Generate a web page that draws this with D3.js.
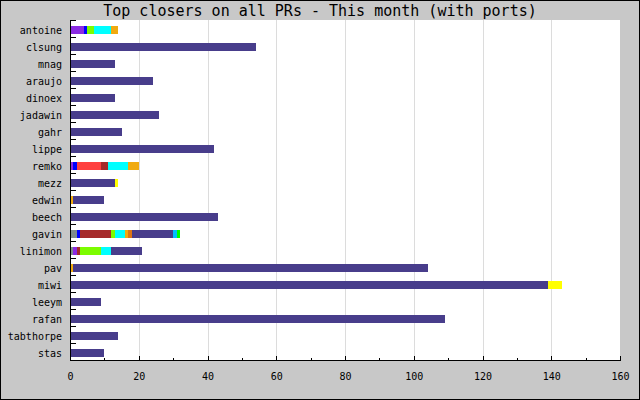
<!DOCTYPE html>
<html>
<head>
<meta charset="utf-8">
<script src="https://cdn.jsdelivr.net/npm/d3@7"></script>
<style>
  body { margin: 0; background: #fff; }
  text { font-family: "DejaVu Sans Mono", monospace; }
</style>
</head>
<body>
<svg width="640" height="400"></svg>
<script>
const svg = d3.select("svg");
const width = +svg.attr("width");
const height = +svg.attr("height");

const closers = ["antoine", "clsung", "mnag", "araujo", "dinoex", "jadawin", "gahr", "lippe",
  "remko", "mezz", "edwin", "beech", "gavin", "linimon", "pav", "miwi", "leeym", "rafan",
  "tabthorpe", "stas"];

// one array per stacked segment, in stacking order (values per closer)
const gray       = [0, 0, 0, 0, 0, 0, 0, 0, 0, 0, 0, 0, 2, 1, 0, 0, 0, 0, 0, 0];
const violet     = [4, 0, 0, 0, 0, 0, 0, 0, 1, 0, 0, 0, 0, 1, 0, 0, 0, 0, 0, 0];
const blue       = [1, 0, 0, 0, 0, 0, 0, 0, 1, 0, 0, 0, 1, 0, 0, 0, 0, 0, 0, 0];
const red        = [0, 0, 0, 0, 0, 0, 0, 0, 7, 0, 0, 0, 0, 0, 0, 0, 0, 0, 0, 0];
const brown      = [0, 0, 0, 0, 0, 0, 0, 0, 2, 0, 0, 0, 9, 1, 0, 0, 0, 0, 0, 0];
const lawn       = [2, 0, 0, 0, 0, 0, 0, 0, 0, 0, 0, 0, 1, 6, 0, 0, 0, 0, 0, 0];
const cyan       = [5, 0, 0, 0, 0, 0, 0, 0, 6, 0, 0, 0, 3, 3, 0, 0, 0, 0, 0, 0];
const orange     = [2, 0, 0, 0, 0, 0, 0, 0, 3, 0, 1, 0, 1, 0, 1, 0, 0, 0, 0, 0];
const darkorange = [0, 0, 0, 0, 0, 0, 0, 0, 0, 0, 0, 0, 1, 0, 0, 0, 0, 0, 0, 0];
const ports      = [0, 54, 13, 24, 13, 26, 15, 42, 0, 13, 9, 43, 12, 9, 103, 139, 9, 109, 14, 10];
const skyblue    = [0, 0, 0, 0, 0, 0, 0, 0, 0, 0, 0, 0, 1, 0, 0, 0, 0, 0, 0, 0];
const lime       = [0, 0, 0, 0, 0, 0, 0, 0, 0, 0, 0, 0, 1, 0, 0, 0, 0, 0, 0, 0];
const yellow     = [0, 0, 0, 0, 0, 0, 0, 0, 0, 1, 0, 0, 0, 0, 0, 4, 0, 0, 0, 0];

const xTicks = [0, 20, 40, 60, 80, 100, 120, 140, 160];

const series = [
  { key: "gray", values: gray, color: "#7f8b8b" },
  { key: "violet", values: violet, color: "#8a2be2" },
  { key: "blue", values: blue, color: "#0000ff" },
  { key: "red", values: red, color: "#ff4040" },
  { key: "brown", values: brown, color: "#a52a2a" },
  { key: "lawn", values: lawn, color: "#7cfc00" },
  { key: "cyan", values: cyan, color: "#00ffff" },
  { key: "orange", values: orange, color: "#f0aa10" },
  { key: "darkorange", values: darkorange, color: "#dd7514" },
  { key: "ports", values: ports, color: "#483d8b" },
  { key: "skyblue", values: skyblue, color: "#00bfff" },
  { key: "lime", values: lime, color: "#00ff00" },
  { key: "yellow", values: yellow, color: "#ffff00" }
];

const table = closers.map((name, i) => {
  const row = { name };
  series.forEach(s => row[s.key] = s.values[i]);
  return row;
});

const plotLeft = 70, plotRight = 620, plotTop = 20, plotBottom = 360;

// background and frame
svg.append("rect")
  .attr("x", 0.5).attr("y", 0.5)
  .attr("width", width - 1).attr("height", height - 1)
  .attr("fill", "#c8c8c8").attr("stroke", "#000");

svg.append("rect")
  .attr("x", plotLeft).attr("y", plotTop)
  .attr("width", plotRight - plotLeft).attr("height", plotBottom - plotTop)
  .attr("fill", "#fff");

svg.append("text")
  .attr("x", width / 2).attr("y", 16)
  .attr("text-anchor", "middle")
  .style("font-size", "15px")
  .text("Top closers on all PRs - This month (with ports)");

const x = d3.scaleLinear().domain([0, 160]).range([plotLeft, plotRight]);
const y = d3.scaleBand().domain(closers).range([plotTop, plotBottom]);

// vertical grid
svg.append("g")
  .selectAll("line")
  .data(xTicks.slice(1, -1))
  .join("line")
  .attr("x1", d => Math.round(x(d)) + 0.5).attr("x2", d => Math.round(x(d)) + 0.5)
  .attr("y1", plotTop).attr("y2", plotBottom)
  .attr("stroke", "#dcdcdc");

const stacked = d3.stack().keys(series.map(s => s.key))(table);
const colorOf = d3.scaleOrdinal().domain(series.map(s => s.key)).range(series.map(s => s.color));

svg.append("g")
  .attr("shape-rendering", "crispEdges")
  .selectAll("g")
  .data(stacked)
  .join("g")
  .attr("fill", d => colorOf(d.key))
  .selectAll("rect")
  .data(d => d.filter(p => p[1] > p[0]))
  .join("rect")
  .attr("x", d => Math.round(x(d[0])))
  .attr("width", d => Math.round(x(d[1])) - Math.round(x(d[0])))
  .attr("y", d => y(d.data.name) + 6)
  .attr("height", 8);

// left axis: line, ticks at band edges, labels
const yAxis = svg.append("g").attr("shape-rendering", "crispEdges");
yAxis.append("line")
  .attr("x1", plotLeft + 0.5).attr("x2", plotLeft + 0.5)
  .attr("y1", plotTop).attr("y2", plotBottom)
  .attr("stroke", "#000");
yAxis.selectAll("line.tick")
  .data(closers.map(c => y(c)))
  .join("line")
  .attr("class", "tick")
  .attr("x1", plotLeft).attr("x2", plotLeft + 6)
  .attr("y1", d => d + 0.5).attr("y2", d => d + 0.5)
  .attr("stroke", "#000");
yAxis.selectAll("text")
  .data(closers)
  .join("text")
  .attr("x", 62)
  .attr("y", d => y(d) + 10)
  .attr("dy", "0.35em")
  .attr("text-anchor", "end")
  .style("font-size", "10px")
  .text(d => d);

// bottom axis
const xAxis = svg.append("g")
  .attr("transform", `translate(0,${plotBottom + 0.5})`)
  .attr("shape-rendering", "crispEdges")
  .call(d3.axisBottom(x).tickValues(xTicks).tickSize(-5).tickPadding(12).tickFormat(d3.format("d")));
xAxis.select(".domain").remove();
xAxis.selectAll(".tick line").attr("stroke", "#000");
xAxis.selectAll("text")
  .style("font-family", "DejaVu Sans Mono, monospace")
  .style("font-size", "10px")
  .attr("fill", "#000");
xAxis.append("line")
  .attr("x1", plotLeft).attr("x2", plotRight)
  .attr("stroke", "#000");
xAxis.selectAll("line.minor")
  .data(d3.range(10, 160, 20))
  .join("line")
  .attr("class", "minor")
  .attr("x1", d => Math.round(x(d)) + 0.5).attr("x2", d => Math.round(x(d)) + 0.5)
  .attr("y1", 0).attr("y2", -3)
  .attr("stroke", "#000");
</script>
</body>
</html>
